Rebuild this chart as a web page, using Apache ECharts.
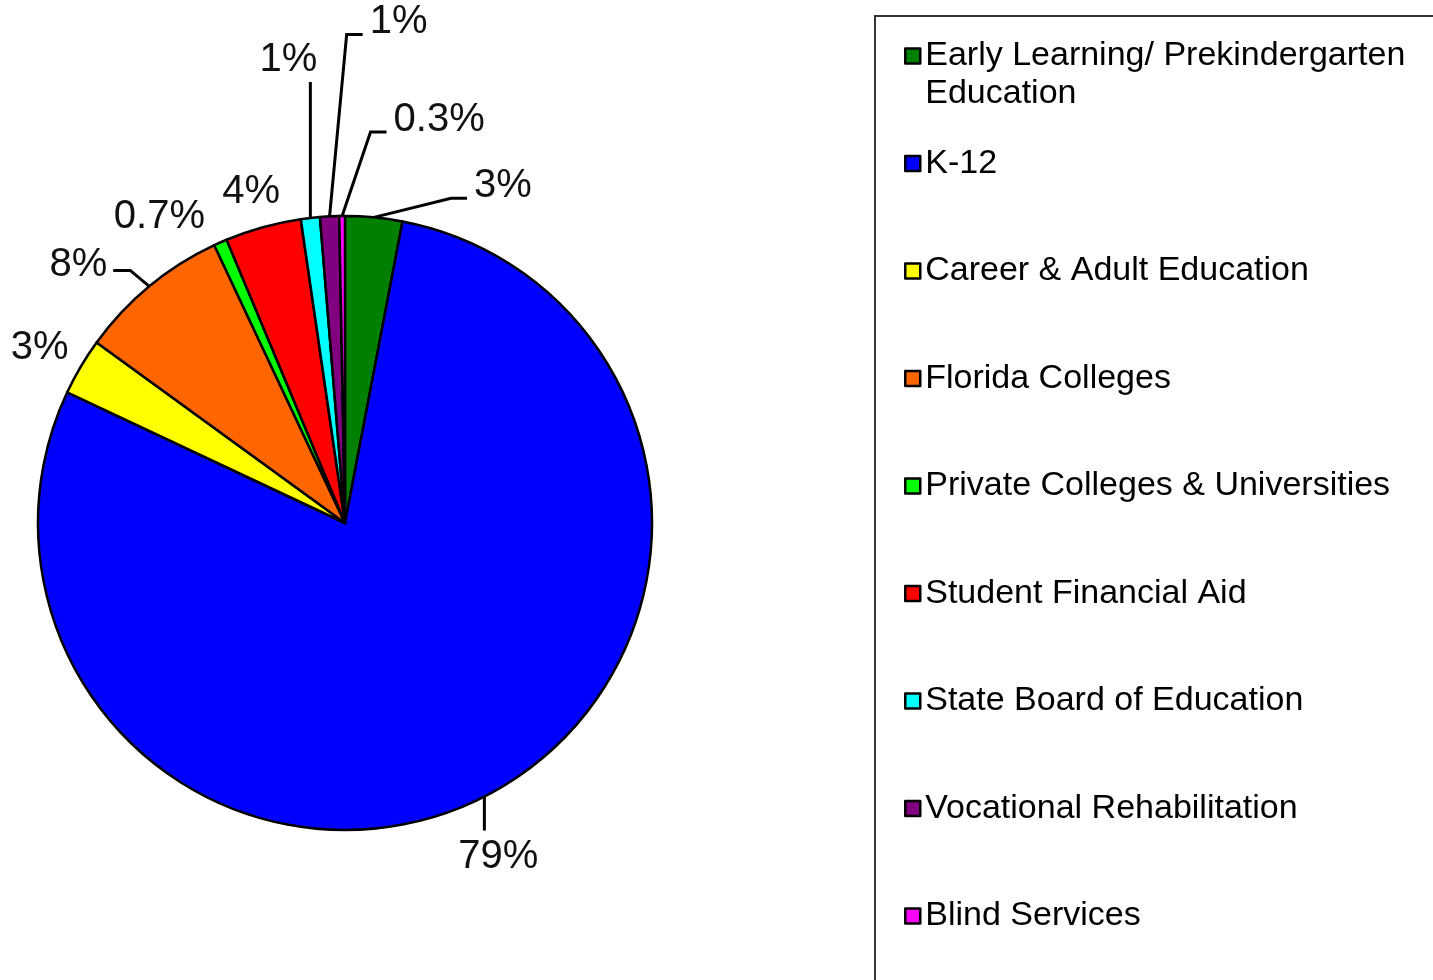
<!DOCTYPE html>
<html style="height: 100%">
<head>
	<meta charset="utf-8">
</head>
<body style="height: 100%; margin: 0; background: #fff">
	<div id="container" style="width: 1433px; height: 980px"></div>
	<script type="text/javascript" src="https://cdn.jsdelivr.net/npm/echarts@6/dist/echarts.min.js"></script>
	<script type="text/javascript">
		var categories = ['Early Learning/ Prekindergarten Education', 'K-12', 'Career & Adult Education',
			'Florida Colleges', 'Private Colleges & Universities', 'Student Financial Aid',
			'State Board of Education', 'Vocational Rehabilitation', 'Blind Services'];
		var percents = [3, 79, 3, 8, 0.7, 4, 1, 1, 0.3];
		var colors = ['#008000', '#0000ff', '#ffff00', '#ff6600', '#00ff00', '#ff0000', '#00ffff', '#800080', '#ff00ff'];

		// legend entries that wrap onto a second line
		var wrapped = {
			'Early Learning/ Prekindergarten Education': 'Early Learning/ Prekindergarten\nEducation'
		};

		// where each label sits, relative to the point where its leader meets the slice
		var labelPlace = [
			{ off: [129, -31], line: 'left' },
			{ off: [14, 60], line: 'top' },
			{ off: [-41, -19], line: 'none' },
			{ off: [-71, -21], line: 'right' },
			{ off: [-61, -25], line: 'none' },
			{ off: [-12, -35], line: 'none' },
			{ off: [-22, -158], line: 'vertical' },
			{ off: [69, -194], line: 'left' },
			{ off: [97, -96], line: 'left' }
		];

		var font = "'Liberation Sans', Arial, sans-serif";
		var dom = document.getElementById('container');
		var myChart = echarts.init(dom);

		var pieData = categories.map(function (name, i) {
			return { name: name, value: percents[i], itemStyle: { color: colors[i] } };
		});

		var option = {
			backgroundColor: '#fff',
			animation: false,
			graphic: [{
				type: 'rect',
				shape: { x: 875, y: 16, width: 700, height: 1100 },
				style: { fill: 'none', stroke: '#333', lineWidth: 2 }
			}],
			legend: {
				orient: 'vertical',
				left: 904,
				top: -1,
				padding: 0,
				itemWidth: 15,
				itemHeight: 15,
				itemGap: -6.5,
				icon: 'rect',
				selectedMode: false,
				itemStyle: { borderColor: '#000', borderWidth: 2.5 },
				textStyle: { fontSize: 34, lineHeight: 38, color: '#000', fontFamily: font },
				formatter: function (name) {
					return wrapped[name] ? '\n' + wrapped[name] : '\n' + name + '\n';
				},
				data: categories
			},
			series: [{
				type: 'pie',
				center: [345, 523],
				radius: 307,
				startAngle: 90,
				clockwise: true,
				avoidLabelOverlap: false,
				emphasis: { disabled: true },
				itemStyle: { borderColor: '#000', borderWidth: 2.5 },
				label: {
					show: true,
					position: 'outside',
					fontSize: 40,
					fontFamily: font,
					color: '#111',
					formatter: function (p) { return p.value + '%'; }
				},
				labelLine: {
					show: true,
					length: 10,
					length2: 10,
					lineStyle: { color: '#000', width: 3 }
				},
				labelLayout: function (params) {
					var place = labelPlace[params.dataIndex];
					var p0 = params.labelLinePoints[0];
					var w = params.labelRect.width;
					var cx = p0[0] + place.off[0];
					var cy = p0[1] + place.off[1];
					var pts, ex, ey;
					if (place.line === 'left') {
						ex = cx - w / 2 - 7; ey = cy + 12;
						pts = [p0, [ex - 16, ey], [ex, ey]];
					} else if (place.line === 'right') {
						ex = cx + w / 2 + 6; ey = cy + 5;
						pts = [p0, [ex + 17, ey], [ex, ey]];
					} else if (place.line === 'vertical') {
						pts = [p0, [p0[0], cy + 22]];
					} else if (place.line === 'top') {
						pts = [p0, [p0[0], cy - 26]];
					} else {
						pts = [p0, p0];
					}
					return { x: cx, y: cy, align: 'center', verticalAlign: 'middle', labelLinePoints: pts };
				},
				data: pieData
			}]
		};

		myChart.setOption(option);
	</script>
</body>
</html>
